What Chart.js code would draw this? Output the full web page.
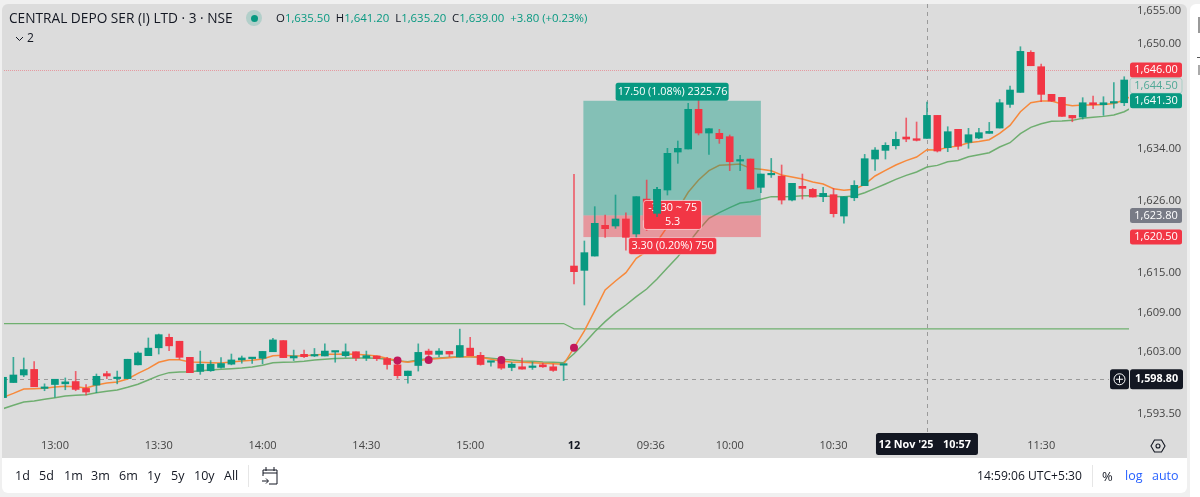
<!DOCTYPE html>
<html>
<head>
<meta charset="utf-8">
<title>CENTRAL DEPO SER (I) LTD</title>
<script src="https://cdn.jsdelivr.net/npm/chart.js@4/dist/chart.umd.min.js"></script>
<style>
  html, body { margin: 0; padding: 0; background: #f0f0f0; overflow: hidden; }
  body { width: 1200px; height: 497px; position: relative; font-family: "Open Sans", sans-serif; }
  #pane { position: absolute; left: 2px; top: 4px; width: 1185px; height: 454px; background: #dcdcdc; border-radius: 6px 6px 0 0; }
  #bar { position: absolute; left: 2px; top: 458px; width: 1185px; height: 35px; background: #fff; border-radius: 0 0 6px 6px; }
  #side { position: absolute; left: 1190px; top: 4px; width: 10px; height: 493px; background: #fff; border-radius: 6px 0 0 0; }
  canvas { position: absolute; left: 0; top: 0; }
  .t { position: absolute; white-space: nowrap; line-height: 16px; color: #131722; }
  .g { color: #089981; }
  .b { font-size: 12.5px; top: 468px; color: #131722; }
  .blue { color: #2962ff; }
  .sep { position: absolute; width: 1px; background: #e6e6e6; top: 465px; height: 22px; }
</style>
</head>
<body>
<div id="pane"></div>
<div id="bar"></div>
<div id="side"></div>
<div style="position:absolute;left:1198px;top:17px;width:2px;height:16px;background:#999"></div>
<div style="position:absolute;left:1197px;top:57px;width:3px;height:1px;background:#555"></div>
<div style="position:absolute;left:1198px;top:65px;width:2px;height:10px;background:#aaa"></div>
<canvas id="candleChart" width="1200" height="497"></canvas>

<span class="t" style="left:9px;top:10px;font-size:13.7px">CENTRAL DEPO SER (I) LTD · 3 · NSE</span>
<div style="position:absolute;left:246px;top:10px;width:16px;height:16px;border-radius:50%;background:rgba(8,153,129,.2)"></div>
<div style="position:absolute;left:250.5px;top:14.5px;width:7px;height:7px;border-radius:50%;background:#089981"></div>
<span class="t" style="left:276px;top:10px;font-size:11.4px">O<span class="g">1,635.50</span>&nbsp; H<span class="g">1,641.20</span>&nbsp; L<span class="g">1,635.20</span>&nbsp; C<span class="g">1,639.00</span>&nbsp; <span class="g">+3.80 (+0.23%)</span></span>
<svg style="position:absolute;left:15px;top:36px" width="9" height="6"><path d="M1 1l3.5 3.5L8 1" fill="none" stroke="#131722"/></svg>
<span class="t" style="left:27px;top:30px;font-size:12px">2</span>

<span class="t b" style="left:15px">1d</span>
<span class="t b" style="left:39px">5d</span>
<span class="t b" style="left:64px">1m</span>
<span class="t b" style="left:91px">3m</span>
<span class="t b" style="left:119px">6m</span>
<span class="t b" style="left:147px">1y</span>
<span class="t b" style="left:171px">5y</span>
<span class="t b" style="left:194px">10y</span>
<span class="t b" style="left:224px">All</span>
<div class="sep" style="left:248px"></div>
<svg style="position:absolute;left:261px;top:466px" width="18" height="20" fill="none" stroke="#131722" stroke-width="1"><path d="M2 7h14M5 1v4M13 1v4M2 10V4h14v14H8M1 15h6M5 12.5L7.500 15 5 17.500"/></svg>
<span class="t" style="left:977px;top:468px;font-size:12.1px">14:59:06 UTC+5:30</span>
<div class="sep" style="left:1092px"></div>
<span class="t" style="left:1102px;top:468px;font-size:13px">%</span>
<span class="t blue" style="left:1125px;top:468px;font-size:12.5px">log</span>
<span class="t blue" style="left:1152px;top:468px;font-size:12.5px">auto</span>
<svg style="position:absolute;left:1150px;top:438px" width="16" height="16" fill="none" stroke="#131722" stroke-width="1.1"><path d="M4.500 2h7L15 8l-3.500 6h-7L1 8z"/><circle cx="8" cy="8" r="2"/></svg>

<script>
// ─── DATA ─────────────────────────────────────────────────────────────────
const opens = [
  1596.0,1598.3,1599.45,1600.3,1597.4,1598.0,1598.1,1598.45,1597.4,1597.9,1599.65,1598.9,1598.9,1601.0,1602.4,1603.6,1605.2,1604.6,1602.15,1600.0,
  1600.1,1600.6,1601.1,1601.75,1601.95,1602.0,1603.0,1604.7,1602.05,1602.6,1602.35,1602.35,1602.95,1602.4,1603.0,1602.05,1602.35,1601.95,1601.0,1599.35,
  1600.9,1603.1,1602.6,1603.05,1602.2,1603.55,1602.45,1601.4,1601.4,1600.6,1600.7,1600.6,1601.0,1600.7,1600.95,
  1616.08,1615.42,1617.6,1622.29,1622.19,1623.26,1620.97,1626.3,1624.12,1627.68,1633.48,1633.94,1640.0,1636.38,1636.33,1635.82,1632.1,1632.41,1628.09,1630.0,
  1629.8,1626.15,1628.24,1627.78,1626.66,1626.97,1623.71,1626.5,1628.34,1632.41,1633.73,1634.44,1635.77,1635.51,1635.56,1639.07,1634.14,1636.94,1634.95,1635.61,
  1636.33,1637.14,1640.75,1642.58,1648.69,1646.5,1642.28,1641.82,1639.07,1638.82,1641.0,1640.7,1640.95,1641.0
];
const highs = [
  1599.1,1602.15,1602.05,1601.5,1598.1,1598.8,1599.0,1600.0,1598.0,1599.6,1600.0,1600.05,1601.85,1603.0,1605.1,1605.7,1605.7,1604.6,1602.15,1603.1,
  1601.65,1602.1,1602.65,1602.35,1602.15,1603.05,1605.05,1604.7,1603.25,1603.25,1603.5,1604.2,1603.05,1604.2,1603.0,1603.1,1602.35,1602.15,1601.5,1600.05,
  1604.2,1603.4,1603.5,1603.05,1606.45,1605.2,1602.9,1601.5,1602.15,1601.35,1602.05,1601.4,1601.25,1601.1,1601.05,
  1630.07,1619.9,1625.14,1623.87,1626.92,1624.2,1626.67,1629.2,1628.09,1634.04,1635.16,1640.91,1642.18,1637.04,1636.94,1636.08,1632.97,1632.41,1630.12,1632.5,
  1631.5,1628.7,1630.12,1627.93,1628.09,1627.93,1626.66,1629.1,1633.12,1634.14,1634.9,1636.53,1638.67,1638.06,1641.1,1639.07,1637.34,1636.94,1637.09,1637.09,
  1638.0,1641.5,1643.55,1649.55,1648.94,1646.9,1642.28,1641.82,1639.07,1641.77,1642.0,1641.92,1644.06,1644.97
];
const lows = [
  1596.0,1598.3,1599.2,1597.65,1597.05,1596.05,1597.2,1597.05,1596.4,1596.75,1598.9,1598.1,1598.9,1601.0,1602.4,1602.65,1603.15,1601.85,1599.8,1599.55,
  1600.0,1600.5,1601.0,1601.25,1601.2,1601.15,1603.0,1602.1,1601.65,1602.1,1602.25,1602.35,1601.4,1602.15,1601.65,1601.65,1601.65,1600.35,1598.95,1598.2,
  1600.05,1601.85,1602.25,1602.25,1602.2,1602.4,1600.95,1600.8,1600.3,1600.1,1600.35,1600.3,1600.6,1600.0,1598.6,
  1613.34,1610.13,1617.6,1620.46,1621.83,1618.5,1619.5,1621.5,1623.61,1626.92,1631.75,1633.94,1636.08,1633.13,1634.8,1630.63,1630.63,1627.84,1627.28,1629.6,
  1625.54,1626.0,1626.3,1626.61,1625.9,1623.56,1622.64,1626.05,1628.34,1630.68,1632.41,1633.94,1635.05,1635.16,1635.56,1633.48,1633.53,1633.88,1634.04,1635.51,
  1636.33,1637.14,1640.3,1642.58,1646.65,1641.16,1641.16,1638.92,1638.1,1638.51,1640.09,1639.07,1640.19,1640.55
];
const closes = [
  1599.1,1599.45,1600.27,1597.65,1597.55,1598.8,1598.4,1597.25,1596.85,1599.25,1599.3,1599.1,1601.85,1602.8,1603.55,1605.6,1603.9,1602.15,1599.8,1601.1,
  1601.1,1601.2,1601.75,1602.05,1602.15,1603.05,1604.8,1602.1,1602.35,1602.25,1602.5,1603.1,1603.05,1603.0,1602.05,1602.4,1601.95,1601.05,1599.35,1600.05,
  1602.9,1602.6,1603.1,1602.65,1603.95,1602.4,1601.05,1601.5,1600.5,1601.1,1600.35,1600.7,1600.7,1600.15,1601.05,
  1615.22,1618.12,1622.6,1621.78,1623.26,1620.46,1626.67,1623.1,1627.78,1633.28,1634.04,1640.0,1636.38,1637.04,1635.52,1632.0,1632.26,1627.84,1630.12,1630.1,
  1626.15,1628.7,1627.93,1626.61,1627.17,1624.07,1626.66,1628.39,1632.46,1633.78,1634.5,1635.41,1635.46,1635.26,1639.07,1633.63,1636.58,1634.39,1636.12,1636.43,
  1636.63,1641.0,1642.94,1648.84,1646.65,1642.28,1641.26,1638.92,1638.67,1641.0,1640.7,1641.0,1641.1,1644.47
];

const fastLine = [
  1596.04,1596.65,1597.31,1597.36,1597.41,1597.62,1597.72,1597.67,1597.47,1597.92,1598.23,1598.38,1598.84,1599.7,1600.47,1601.39,1601.79,1601.79,1601.44,1601.39,
  1601.33,1601.28,1601.44,1601.59,1601.69,1601.9,1602.4,1602.45,1602.35,1602.4,1602.5,1602.61,1602.61,1602.66,1602.61,1602.5,1602.35,1602,1601.64,1601.39,
  1601.64,1601.84,1601.95,1602.1,1602.25,1602.25,1602.15,1601.84,1601.54,1601.44,1601.39,1601.33,1601.23,1601.18,1601.08,
  1603.6,1606.2,1609.27,1612.42,1613.8,1615.07,1617.25,1618.3,1619.8,1622.1,1624.73,1627.33,1629.2,1630.63,1631.45,1631.55,1631.65,1630.99,1630.84,1630.63,
  1629.97,1629.66,1629.36,1628.9,1628.6,1627.88,1627.63,1627.78,1628.54,1629.82,1630.68,1631.5,1632.16,1632.72,1633.83,1633.78,1634.19,1634.4,
  1634.9,1635.1,1635.36,1636.33,1637.55,1639.63,1641,1641.26,1641.26,1640.8,1640.55,1640.65,1640.65,1640.75,1640.9,1641.41,1642.3
];
const midLine = [
  1594.31,1594.82,1595.33,1595.48,1595.74,1595.99,1596.25,1596.35,1596.45,1596.75,1596.96,1597.16,1597.57,1598.03,1598.69,1599.35,1599.81,1599.91,1599.96,1600.11,
  1600.22,1600.32,1600.42,1600.52,1600.67,1600.93,1601.33,1601.39,1601.44,1601.54,1601.74,1601.84,1601.95,1602,1602.05,1602.05,1602,1601.84,1601.59,1601.49,
  1601.74,1601.95,1602.05,1602.15,1602.25,1602.25,1602.15,1602,1601.84,1601.74,1601.59,1601.54,1601.44,1601.39,1601.33,
  1602.7,1604.3,1606.06,1607.6,1608.96,1610.13,1611.4,1612.57,1614.1,1615.83,1617.5,1619.54,1621.58,1623.36,1624.22,1624.99,1625.7,1625.9,1626.26,1626.67,
  1626.66,1626.71,1626.81,1626.81,1626.76,1626.71,1626.66,1626.76,1627.27,1627.93,1628.6,1629.31,1629.92,1630.43,1631.19,1631.44,1632,1632.2,
  1632.77,1633.07,1633.38,1634.24,1634.9,1636.28,1637.24,1637.8,1638.16,1638.21,1638.31,1638.62,1638.77,1638.92,1639.12,1639.63,1640.5
];
const slowLine = [
  1607.3,1607.3,1607.3,1607.3,1607.3,1607.3,1607.3,1607.3,1607.3,1607.3,1607.3,1607.3,1607.3,1607.3,1607.3,1607.3,1607.3,1607.3,1607.3,1607.3,
  1607.3,1607.3,1607.3,1607.3,1607.3,1607.3,1607.3,1607.3,1607.3,1607.3,1607.3,1607.3,1607.3,1607.3,1607.3,1607.3,1607.3,1607.3,1607.3,1607.3,
  1607.3,1607.3,1607.3,1607.3,1607.3,1607.3,1607.3,1607.3,1607.3,1607.3,1607.3,1607.3,1607.3,1607.3,1607.3,
  1606.5,1606.5,1606.5,1606.5,1606.5,1606.5,1606.5,1606.5,1606.5,1606.5,1606.5,1606.5,1606.5,1606.5,1606.5,1606.5,1606.5,1606.5,1606.5,1606.5,
  1606.5,1606.5,1606.5,1606.5,1606.5,1606.5,1606.5,1606.5,1606.5,1606.5,1606.5,1606.5,1606.5,1606.5,1606.5,1606.5,1606.5,1606.5,
  1606.5,1606.5,1606.5,1606.5,1606.5,1606.5,1606.5,1606.5,1606.5,1606.5,1606.5,1606.5,1606.5,1606.5,1606.5,1606.5,1606.5
];

const signalBars = [38, 41, 48, 55];
const signalPrices = [1601.65, 1601.75, 1601.75, 1603.6];

const timeTicks = [5, 15, 25, 35, 45, 55, 62.4, 70, 80, 100];
const timeLabels = ["13:00", "13:30", "14:00", "14:30", "15:00", "12", "09:36", "10:00", "10:30", "11:30"];
const priceTicks = [1655, 1650, 1634, 1626, 1615, 1609, 1603, 1593.5];

const positionFrom = 56, positionTo = 73;
const positionTarget = 1641.3, positionEntry = 1623.8, positionStop = 1620.5;
const crossBar = 89, crossPrice = 1598.8, alertPrice = 1646;

const GREEN = "#089981", RED = "#f23645", DARK = "#131722";
const fmt = v => v.toLocaleString("en-US", { minimumFractionDigits: 2, maximumFractionDigits: 2 });
const isDayTick = ctx => !!ctx.tick && ctx.tick.value === 55;
const noOverflow = s => { s.paddingLeft = s.paddingRight = s.paddingTop = s.paddingBottom = 0; };

// ─── DRAWING HELPERS ──────────────────────────────────────────────────────
function roundBox(c, x, y, w, h, bg, border) {
  c.beginPath();
  c.roundRect(x, y, w, h, 2.5);
  c.fillStyle = bg;
  c.fill();
  if (border) { c.strokeStyle = border; c.lineWidth = 1; c.stroke(); }
}

function boxText(c, text, x, y, color, font) {
  c.font = font || "11.5px 'Open Sans'";
  c.fillStyle = color;
  c.textAlign = "center";
  c.textBaseline = "middle";
  c.fillText(text, x, y);
}

// ─── POSITION TOOL: zones sit over the lines, under the candles ───────────
const positionZones = {
  id: "positionZones",
  beforeDatasetDraw(chart, args) {
    if (args.index !== 3) return;
    const { x, y } = chart.scales;
    const c = chart.ctx, left = x.getPixelForValue(positionFrom) - 1, right = x.getPixelForValue(positionTo);
    c.save();
    c.fillStyle = "rgba(8,153,129,0.41)";
    c.fillRect(left, y.getPixelForValue(positionTarget), right - left, y.getPixelForValue(positionEntry) - y.getPixelForValue(positionTarget));
    c.fillStyle = "rgba(242,54,69,0.42)";
    c.fillRect(left, y.getPixelForValue(positionEntry), right - left, y.getPixelForValue(positionStop) - y.getPixelForValue(positionEntry));
    c.restore();
  }
};

// ─── CROSSHAIR AND PRICE LINE ─────────────────────────────────────────────
const guideLines = {
  id: "guideLines",
  beforeDatasetsDraw(chart) {
    const { x, y } = chart.scales, c = chart.ctx, area = chart.chartArea;
    c.save();
    c.lineWidth = 1;
    c.setLineDash([1, 1]);
    c.strokeStyle = "rgba(242,54,69,0.4)";
    c.beginPath();
    c.moveTo(area.left, Math.round(y.getPixelForValue(alertPrice)) + 0.5);
    c.lineTo(area.right, Math.round(y.getPixelForValue(alertPrice)) + 0.5);
    c.stroke();
    c.setLineDash([4, 4]);
    c.strokeStyle = "#9a9a9a";
    c.beginPath();
    c.moveTo(Math.round(x.getPixelForValue(crossBar)) + 0.5, area.top);
    c.lineTo(Math.round(x.getPixelForValue(crossBar)) + 0.5, area.bottom);
    c.moveTo(area.left, Math.round(y.getPixelForValue(crossPrice)) + 0.5);
    c.lineTo(area.right - 20, Math.round(y.getPixelForValue(crossPrice)) + 0.5);
    c.stroke();
    c.restore();
  }
};

// ─── LABELS, PRICE BADGES, TIME BADGE ─────────────────────────────────────
const overlays = {
  id: "overlays",
  afterDatasetsDraw(chart) {
    const { x, y } = chart.scales, c = chart.ctx;
    const mid = (x.getPixelForValue(positionFrom) + x.getPixelForValue(positionTo)) / 2;
    const topY = y.getPixelForValue(positionTarget), botY = y.getPixelForValue(positionStop), entryY = y.getPixelForValue(positionEntry);
    const tag = "10.8px 'Open Sans'";
    c.save();

    roundBox(c, mid - 57, topY - 18, 113, 18, GREEN);
    boxText(c, "17.50 (1.08%) 2325.76", mid, topY - 9, "#fff", tag);
    roundBox(c, mid - 29, entryY - 15, 58, 29, RED, "rgba(255,255,255,0.6)");
    boxText(c, "-3.30 ~ 75", mid, entryY - 8, "#fff", tag);
    boxText(c, "5.3", mid, entryY + 6, "#fff", tag);
    roundBox(c, mid - 44, botY + 0.5, 88, 17, RED, "rgba(255,255,255,0.4)");
    boxText(c, "3.30 (0.20%) 750", mid, botY + 9, "#fff", tag);

    // the next candle stays on top of the middle label
    chart.getDatasetMeta(3).data[63].draw(c);
    chart.getDatasetMeta(4).data[63].draw(c);

    const bx = 1130, bw = 52, bh = 15;
    const badge = (price, bg, fg, border, nudge) => {
      const py = y.getPixelForValue(price) + (nudge || 0);
      roundBox(c, bx, py - bh / 2, bw, bh, bg, border);
      boxText(c, fmt(price), bx + bw / 2, py, fg, "11px 'Open Sans'");
    };
    badge(1646, RED, "#fff");
    badge(1644.5, "#dcdcdc", "#4fa896", "#a9cfc6", 6);
    badge(1641.3, GREEN, "#fff");
    badge(1623.8, "#787b86", "#fff");
    badge(1620.5, RED, "#fff");

    // crosshair price with the plus button
    const cy = y.getPixelForValue(crossPrice);
    roundBox(c, 1110, cy - 10, 19, 20, DARK);
    roundBox(c, 1130, cy - 10, 53, 20, DARK);
    boxText(c, fmt(crossPrice), 1156.5, cy, "#fff", "bold 10.8px 'Open Sans'");
    c.strokeStyle = "#fff";
    c.lineWidth = 1;
    c.beginPath();
    c.arc(1119.5, cy, 5.5, 0, Math.PI * 2);
    c.moveTo(1119.5, cy - 3.5); c.lineTo(1119.5, cy + 3.5);
    c.moveTo(1116, cy); c.lineTo(1123, cy);
    c.stroke();

    // crosshair time
    const tx = x.getPixelForValue(crossBar);
    roundBox(c, tx - 51, 433, 102, 22, DARK);
    boxText(c, "12 Nov '25", tx - 21, 445, "#fff", "bold 10.8px 'Open Sans'");
    boxText(c, "10:57", tx + 30, 445, "#fff", "bold 10.8px 'Open Sans'");
    c.restore();
  }
};

// ─── CHART ────────────────────────────────────────────────────────────────
function renderCandleChart() {
  const upDown = opens.map((o, i) => closes[i] >= o ? GREEN : RED);
  const line = (label, values, color, width, order) => ({
    type: "line", label, order,
    data: values.map((v, i) => ({ x: i, y: v })),
    borderColor: color, borderWidth: width, pointRadius: 0, tension: 0
  });

  return new Chart(document.getElementById("candleChart"), {
    type: "bar",
    data: {
      datasets: [
        line("Slow", slowLine, "#6fb06f", 1.2, 6),
        line("Mid", midLine, "#6fae70", 1.5, 5),
        line("Fast", fastLine, "#f7893b", 1.5, 4),
        {
          label: "Wicks", order: 3, grouped: false, barThickness: 1, minBarLength: 1,
          data: lows.map((l, i) => ({ x: i, y: [l, highs[i]] })),
          backgroundColor: upDown.map(c => c === GREEN ? "rgba(8,153,129,0.75)" : "rgba(242,54,69,0.75)")
        },
        {
          label: "Bodies", order: 2, grouped: false, barThickness: 7, minBarLength: 1.5,
          data: opens.map((o, i) => ({ x: i, y: [o, closes[i]] })),
          backgroundColor: upDown
        },
        {
          type: "line", label: "Signals", order: 1, showLine: false,
          data: signalBars.map((b, i) => ({ x: b, y: signalPrices[i] })),
          pointRadius: 4, pointBackgroundColor: "#c2185b", pointBorderWidth: 0
        }
      ]
    },
    options: {
      responsive: false,
      animation: false,
      devicePixelRatio: 1,
      layout: { padding: { left: 2, right: 13, top: 4, bottom: 39 } },
      plugins: { legend: { display: false }, tooltip: { enabled: false } },
      scales: {
        x: {
          type: "linear", min: 0.096, max: 108.46, offset: false,
          grid: { display: false, drawTicks: false },
          border: { display: false },
          afterBuildTicks: s => { s.ticks = timeTicks.map(value => ({ value })); },
          afterFit: s => { s.height = 26; noOverflow(s); },
          ticks: {
            autoSkip: false, maxRotation: 0, padding: 7,
            callback: v => timeLabels[timeTicks.indexOf(v)],
            color: ctx => isDayTick(ctx) ? DARK : "#444",
            font: ctx => ({ family: "'Open Sans'", size: 11, weight: isDayTick(ctx) ? "bold" : "normal" })
          }
        },
        y: {
          position: "right", min: 1590.75, max: 1656.07,
          grid: { display: false, drawTicks: false },
          border: { display: false },
          afterBuildTicks: s => { s.ticks = priceTicks.map(value => ({ value })); },
          afterFit: s => { s.width = 58; noOverflow(s); },
          ticks: {
            crossAlign: "near", padding: 8, autoSkip: false,
            callback: fmt,
            color: "#444",
            font: { family: "'Open Sans'", size: 11.2 }
          }
        }
      }
    },
    plugins: [guideLines, positionZones, overlays]
  });
}

renderCandleChart();
</script>
</body>
</html>
